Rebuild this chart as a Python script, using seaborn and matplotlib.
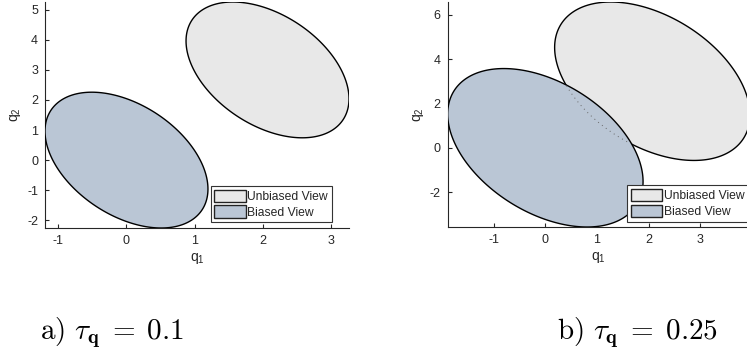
import numpy as np
import matplotlib
matplotlib.use("Agg")
import matplotlib.pyplot as plt
import seaborn as sns
from matplotlib.path import Path
from matplotlib.ticker import MultipleLocator

# ---- data ----
taus = [0.1, 0.25]
panel_labels = ["a)", "b)"]
mean_unbiased = [2.07, 3.0]
mean_biased = [0.0, 0.0]
cov_base = [[14.3, -11.5], [-11.5, 51.0]]   # covariance scaled by tau
series_names = ["Unbiased View", "Biased View"]
fill_colors = ["#e8e8e8", "#bac6d5"]
y_steps = [1, 2]

sns.set_theme(style="white")
plt.rcParams["font.family"] = ["Liberation Sans", "DejaVu Sans"]
plt.rcParams["axes.unicode_minus"] = False

fig = plt.figure(figsize=(7.47, 3.56), dpi=100)
positions = [
    [45 / 747, (356 - 228) / 356, 304 / 747, 226 / 356],
    [447.7 / 747, (356 - 227) / 356, 302.3 / 747, 225 / 356],
]
legend_anchor = [(0.943, 0.025), (0.994, 0.024)]

t = np.linspace(0, 2 * np.pi, 400)
circle = np.vstack([np.cos(t), np.sin(t)])

def ellipse_pts(mean, cov):
    L = np.linalg.cholesky(np.array(cov))
    pts = L @ circle
    return pts[0] + mean[0], pts[1] + mean[1]

ink = "#262626"
for i, tau in enumerate(taus):
    ax = fig.add_axes(positions[i])
    cov = (np.array(cov_base) * tau).tolist()
    xu, yu = ellipse_pts(mean_unbiased, cov)
    xb, yb = ellipse_pts(mean_biased, cov)
    hu = ax.fill(xu, yu, facecolor=fill_colors[0], edgecolor="black", lw=1.0,
                 label=series_names[0], zorder=2)[0]
    hb = ax.fill(xb, yb, facecolor=fill_colors[1], edgecolor="black", lw=1.0,
                 label=series_names[1], zorder=3)[0]
    # faint dotted trace of the hidden unbiased outline
    clip_path = Path(np.column_stack([xb, yb]))
    inside = clip_path.contains_points(np.column_stack([xu, yu]))
    if inside.any():
        xi = np.where(inside, xu, np.nan)
        yi = np.where(inside, yu, np.nan)
        ax.plot(xi, yi, ls=(0, (1, 4)), color="#666666", lw=0.7, zorder=4)

    xall = np.concatenate([xu, xb])
    yall = np.concatenate([yu, yb])
    ax.set_xlim(xall.min(), xall.max())
    ax.set_ylim(yall.min(), yall.max())
    ax.xaxis.set_major_locator(MultipleLocator(1))
    ax.yaxis.set_major_locator(MultipleLocator(y_steps[i]))

    for s in ["top", "right"]:
        ax.spines[s].set_visible(False)
    for s in ["left", "bottom"]:
        ax.spines[s].set_color(ink)
        ax.spines[s].set_linewidth(0.8)
    ax.tick_params(direction="in", length=3, width=0.8, colors=ink,
                   labelsize=9, left=True, bottom=True, pad=5)
    ax.set_xlabel(r"q$_\mathregular{1}$", fontsize=10, color=ink, labelpad=3)
    ax.set_ylabel(r"q$_\mathregular{2}$", fontsize=10, color=ink, labelpad=3)

    leg = ax.legend(handles=[hu, hb], loc="lower right",
                    bbox_to_anchor=legend_anchor[i], fontsize=8.7,
                    frameon=True, fancybox=False, framealpha=1,
                    edgecolor="#333333", borderpad=0.3, labelspacing=0.2,
                    handlelength=2.6, handleheight=1.2, handletextpad=0.15,
                    borderaxespad=0)
    leg.get_frame().set_linewidth(0.8)
    for p in leg.get_patches():
        p.set_edgecolor("#222222")

caption_x = [40 / 747, 557 / 747]
for i, tau in enumerate(taus):
    fig.text(caption_x[i], 1 - 339 / 356,
             r"$\mathrm{%s}\ \tau_{\mathbf{q}}\;=\;\mathrm{%s}$" % (panel_labels[i], tau),
             fontsize=21, math_fontfamily="cm", color="black",
             ha="left", va="baseline")

fig.savefig("out.png", dpi=100)
